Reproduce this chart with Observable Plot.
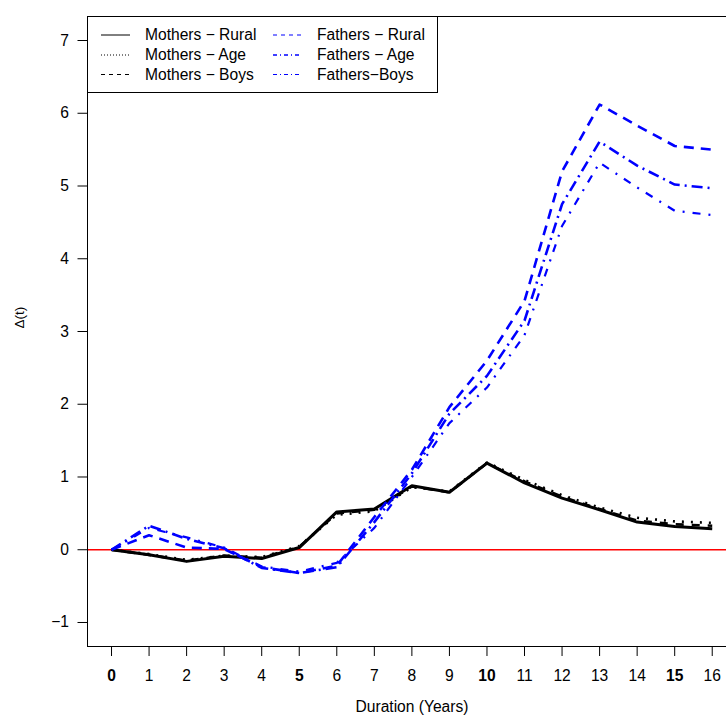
<!DOCTYPE html>
<html>
<head>
<meta charset="utf-8">
<script src="https://cdn.jsdelivr.net/npm/d3@7"></script>
<script src="https://cdn.jsdelivr.net/npm/@observablehq/plot@0.6"></script>
<style>
  html, body { margin: 0; padding: 0; background: #fff; overflow: hidden; }
  #wrap { position: relative; width: 726px; height: 722px; font-family: "Liberation Sans", Arial, sans-serif; }
  #legend { position: absolute; left: 0; top: 0; }
</style>
</head>
<body>
<div id="wrap"></div>
<script>
// ---- data ----
const years = [0,1,2,3,4,5,6,7,8,9,10,11,12,13,14,15,16];
const mothersRural = [0, -0.07, -0.16, -0.09, -0.12, 0.03, 0.52, 0.56, 0.88, 0.79, 1.19, 0.92, 0.71, 0.55, 0.38, 0.32, 0.29];
const mothersAge   = [0, -0.06, -0.14, -0.08, -0.10, 0.05, 0.48, 0.53, 0.86, 0.80, 1.20, 0.96, 0.75, 0.58, 0.44, 0.39, 0.37];
const mothersBoys  = [0, -0.07, -0.15, -0.08, -0.11, 0.04, 0.50, 0.55, 0.87, 0.79, 1.19, 0.94, 0.73, 0.56, 0.40, 0.35, 0.33];
const fathersRural = [0, 0.20, 0.03, 0.01, -0.24, -0.32, -0.22, 0.45, 1.10, 1.96, 2.60, 3.42, 5.20, 6.12, 5.83, 5.55, 5.50];
const fathersAge   = [0, 0.33, 0.15, 0.02, -0.25, -0.32, -0.24, 0.38, 1.05, 1.87, 2.39, 3.15, 4.75, 5.61, 5.28, 5.02, 4.97];
const fathersBoys  = [0, 0.30, 0.17, 0.03, -0.23, -0.30, -0.18, 0.30, 1.00, 1.74, 2.23, 2.95, 4.45, 5.32, 4.98, 4.66, 4.60];

const seriesNames = ["Mothers − Rural", "Mothers − Age", "Mothers − Boys", "Fathers − Rural", "Fathers − Age", "Fathers−Boys"];
const seriesValues = [mothersRural, mothersAge, mothersBoys, fathersRural, fathersAge, fathersBoys];
const xTicks = years;
const boldTicks = [0, 5, 10, 15];
const yTicks = [-1, 0, 1, 2, 3, 4, 5, 6, 7];
const xLabel = "Duration (Years)";
const yLabel = "Δ(t)";

// ---- styles ----
const FS = 15.6;
const styles = [
  {color: "black", dash: null,        width: 3,   legDash: null,      legWidth: 1},
  {color: "black", dash: "2,7",       width: 2.6, legDash: "1,2",     legWidth: 1},
  {color: "black", dash: "8,8",       width: 2.6, legDash: "4,4",     legWidth: 1},
  {color: "blue",  dash: "10,7",      width: 2.6, legDash: "4,4",     legWidth: 1},
  {color: "blue",  dash: "11,5,2,5",  width: 2.6, legDash: "4,3,1,3", legWidth: 1.4},
  {color: "blue",  dash: "8,8,2,8",   width: 2.2, legDash: "4,3,1,3", legWidth: 1}
];

const rows = [];
seriesNames.forEach((name, i) => {
  years.forEach((t, j) => rows.push({series: name, idx: i, t, v: seriesValues[i][j]}));
});

const xDomain = [-0.64, 16.38];
const yDomain = [-1.33, 7.33];

const lineMarks = seriesNames.map((name, i) =>
  Plot.line(rows.filter(r => r.idx === i), {
    x: "t", y: "v",
    stroke: styles[i].color,
    strokeWidth: styles[i].width,
    strokeDasharray: styles[i].dash || undefined,
    strokeLinecap: "butt",
    strokeLinejoin: "round"
  })
);

const fmt = d => d < 0 ? "−" + Math.abs(d) : String(d);

const chart = Plot.plot({
  width: 726,
  height: 722,
  marginLeft: 87,
  marginRight: 0,
  marginTop: 16,
  marginBottom: 76,
  style: {fontFamily: "Liberation Sans, Arial, sans-serif", fontSize: FS + "px", color: "black", background: "white"},
  x: {domain: xDomain, axis: null},
  y: {domain: yDomain, axis: null},
  marks: [
    Plot.ruleY([0], {stroke: "red", strokeWidth: 1.5}),
    ...lineMarks,
    // frame (left, top, bottom) — right edge is outside the window
    Plot.ruleX([xDomain[0]], {stroke: "black", strokeWidth: 1}),
    Plot.ruleY([yDomain[1]], {stroke: "black", strokeWidth: 1}),
    Plot.ruleY([yDomain[0]], {stroke: "black", strokeWidth: 1}),
    Plot.axisY({ticks: yTicks, tickSize: 9.5, tickPadding: 9, tickFormat: fmt, fontSize: FS, label: null, stroke: "black"}),
    Plot.axisX({ticks: xTicks.filter(d => !boldTicks.includes(d)), tickSize: 10, tickPadding: 13, tickFormat: fmt, fontSize: FS, label: null}),
    Plot.axisX({ticks: boldTicks, tickSize: 10, tickPadding: 13, tickFormat: fmt, fontSize: FS, fontWeight: "bold", label: null}),
    Plot.text([xLabel], {frameAnchor: "bottom", dx: 5, dy: 65, fontSize: FS, fill: "black"}),
    Plot.text([yLabel], {frameAnchor: "left", rotate: -90, dx: -68, dy: -3, fontSize: 13.5, fill: "black"})
  ]
});

const wrap = document.getElementById("wrap");
wrap.appendChild(chart);

// ---- legend overlay (inside plot region, top-left) ----
const leg = d3.select(wrap).append("svg")
  .attr("id", "legend")
  .attr("width", 726).attr("height", 722)
  .style("pointer-events", "none");

const box = {x0: 87.5, y0: 16.5, x1: 437.5, y1: 92.5};
leg.append("rect")
  .attr("x", box.x0).attr("y", box.y0)
  .attr("width", box.x1 - box.x0).attr("height", box.y1 - box.y0)
  .attr("fill", "white").attr("stroke", "black").attr("stroke-width", 1);

const rowY = [35, 55, 74.5];
const cols = [{lx0: 101, lx1: 130, tx: 145}, {lx0: 273, lx1: 302, tx: 317}];
seriesNames.forEach((name, i) => {
  const c = cols[Math.floor(i / 3)];
  const y = rowY[i % 3];
  leg.append("line")
    .attr("x1", c.lx0).attr("x2", c.lx1).attr("y1", y).attr("y2", y)
    .attr("stroke", styles[i].color)
    .attr("stroke-width", styles[i].legWidth)
    .attr("stroke-dasharray", styles[i].legDash);
  leg.append("text")
    .attr("x", c.tx).attr("y", y)
    .attr("dy", "0.35em")
    .attr("font-family", "Liberation Sans, Arial, sans-serif")
    .attr("font-size", FS)
    .attr("fill", "black")
    .text(name);
});
</script>
</body>
</html>
